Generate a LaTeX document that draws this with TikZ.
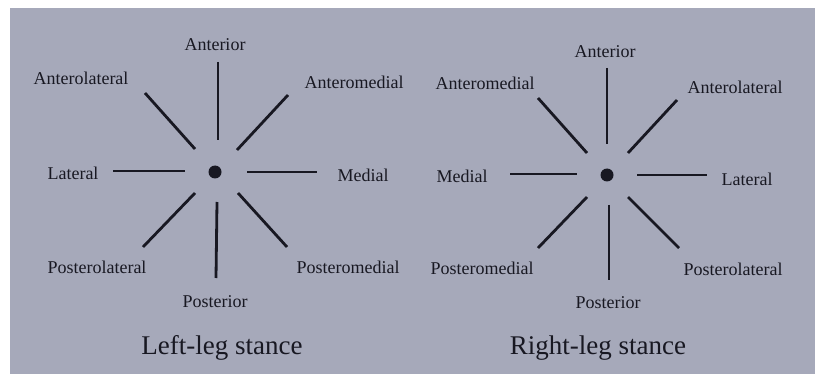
\documentclass[tikz,border=0pt]{standalone}
\usepackage{fontspec}
\setmainfont{Liberation Serif}
\usepackage{xcolor}
\definecolor{pagegray}{RGB}{166,169,186}
\definecolor{inkdark}{RGB}{24,24,34}
\tikzset{
  spoke/.style={draw=inkdark,line width=2.8pt},
  dirlabel/.style={text=inkdark,inner sep=0pt,font=\fontsize{18}{18}\selectfont},
  stancelabel/.style={text=inkdark,inner sep=0pt,font=\fontsize{27}{27}\selectfont}
}
\begin{document}
\begin{tikzpicture}[x=1pt,y=-1pt]
        \useasboundingbox (0,0) rectangle (816,374);
        \fill[pagegray] (10,8) rectangle (815,374);
        % left-leg stance
        \fill[inkdark] (215,172) circle (6.5) coordinate (leftdot);
        \draw[spoke] (218,62) -- (218,140);
        \draw[spoke] (145,93) -- (195,149);
        \draw[spoke] (288,95) -- (237,150);
        \draw[spoke] (113,171) -- (185,171);
        \draw[spoke] (247,172) -- (317,172);
        \draw[spoke] (195,193) -- (143,247);
        \draw[spoke] (217,202) -- (216,278);
        \draw[spoke] (238,193) -- (287,247);
        \draw (215,45) node[dirlabel](lant) {Anterior};
        \draw (81,78) node[dirlabel](lantlat) {Anterolateral};
        \draw (354,82) node[dirlabel](lantmed) {Anteromedial};
        \draw (73,173) node[dirlabel](llat) {Lateral};
        \draw (363,175) node[dirlabel](lmed) {Medial};
        \draw (97,267) node[dirlabel](lpostlat) {Posterolateral};
        \draw (348,267) node[dirlabel](lpostmed) {Posteromedial};
        \draw (215,302) node[dirlabel](lpost) {Posterior};
        \draw (222,348) node[stancelabel](lstance) {Left-leg stance};
        % right-leg stance
        \fill[inkdark] (607,175) circle (6.5) coordinate (rightdot);
        \draw[spoke] (607,68) -- (607,144);
        \draw[spoke] (538,98) -- (587,153);
        \draw[spoke] (677,100) -- (628,153);
        \draw[spoke] (510,174) -- (577,174);
        \draw[spoke] (637,175) -- (707,175);
        \draw[spoke] (587,197) -- (538,248);
        \draw[spoke] (609,205) -- (609,280);
        \draw[spoke] (628,197) -- (679,248);
        \draw (605,52) node[dirlabel](rant) {Anterior};
        \draw (485,83) node[dirlabel](rantmed) {Anteromedial};
        \draw (735,87) node[dirlabel](rantlat) {Anterolateral};
        \draw (462,176) node[dirlabel](rmed) {Medial};
        \draw (747,179) node[dirlabel](rlat) {Lateral};
        \draw (482,268) node[dirlabel](rpostmed) {Posteromedial};
        \draw (733,269) node[dirlabel](rpostlat) {Posterolateral};
        \draw (608,303) node[dirlabel](rpost) {Posterior};
        \draw (598,348) node[stancelabel](rstance) {Right-leg stance};
    \end{tikzpicture}
\end{document}
